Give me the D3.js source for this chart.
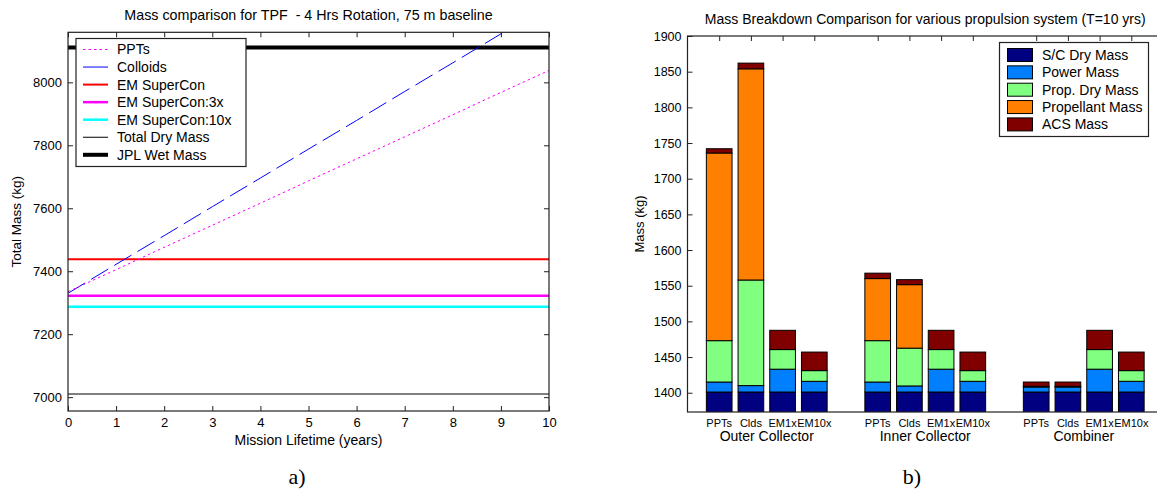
<!DOCTYPE html>
<html>
<head>
<meta charset="utf-8">
<script src="https://cdn.jsdelivr.net/npm/d3@7"></script>
<style>
  html, body { margin: 0; padding: 0; background: #fff; }
  svg { display: block; }
  text { fill: #000; }
</style>
</head>
<body>
<svg id="chart" width="1157" height="489" font-family="'Liberation Sans', Arial, sans-serif"></svg>
<script>
// ---------- Data: left chart (a) ----------
const lifetimeYears = [0, 1, 2, 3, 4, 5, 6, 7, 8, 9, 10];
const pptsMass      = [7335, 7405, 7476, 7546, 7616, 7687, 7757, 7827, 7897, 7968, 8038];
const colloidsMass  = [7330, 7422, 7513, 7605, 7696, 7788, 7879, 7971, 8062, 8154, 8245];
const flatYears     = [0, 10];
const emSuperConMass    = [7438, 7438];
const emSuperCon3xMass  = [7322, 7322];
const emSuperCon10xMass = [7287, 7287];
const totalDryMass      = [7010, 7010];
const jplWetMass        = [8111, 8111];
const leftXTicks = [0, 1, 2, 3, 4, 5, 6, 7, 8, 9, 10];
const leftYTicks = [7000, 7200, 7400, 7600, 7800, 8000];
const leftTitle = "Mass comparison for TPF  - 4 Hrs Rotation, 75 m baseline";
const leftXLabel = "Mission Lifetime (years)";
const leftYLabel = "Total Mass (kg)";

// ---------- Data: right chart (b) ----------
const groupNames = ["Outer Collector", "Inner Collector", "Combiner"];
const barLabels  = ["PPTs", "Clds", "EM1x", "EM10x"];
const componentNames = ["S/C Dry Mass", "Power Mass", "Prop. Dry Mass", "Propellant Mass", "ACS Mass"];
// one value per bar: Outer (PPTs, Clds, EM1x, EM10x), Inner (...), Combiner (...)
const scDryMass      = [1401, 1401, 1401, 1401, 1401, 1401, 1401, 1401, 1401, 1401, 1401, 1401];
const powerMass      = [14, 9, 32, 15, 14, 8.5, 32, 15, 7, 7, 32, 15];
const propDryMass    = [58, 148, 27.5, 15, 58, 53, 27.5, 15, 1, 1, 27.5, 15];
const propellantMass = [263, 296, 0, 0, 87, 89, 0, 0, 0, 0, 0, 0];
const acsMass        = [6, 8, 27, 26, 7.6, 7, 27, 26, 6, 6, 27, 26];
const rightYTicks = [1400, 1450, 1500, 1550, 1600, 1650, 1700, 1750, 1800, 1850, 1900];
const rightTitle = "Mass Breakdown Comparison for various propulsion system (T=10 yrs)";
const rightYLabel = "Mass (kg)";

const svg = d3.select("#chart");
const AX = "#222";
const SERIF = "'Liberation Serif', 'Times New Roman', serif";

// ================= LEFT CHART =================
{
  const L = {x0: 68, x1: 549, y0: 32.3, y1: 411};
  const x = d3.scaleLinear().domain([0, 10]).range([L.x0, L.x1]);
  const y = d3.scaleLinear().domain([6956, 8159]).range([L.y1, L.y0]);
  const g = svg.append("g");

  g.append("clipPath").attr("id", "clipL").append("rect")
    .attr("x", L.x0).attr("y", L.y0).attr("width", L.x1 - L.x0).attr("height", L.y1 - L.y0);

  const series = [
    {name: "PPTs", xs: lifetimeYears, ys: pptsMass, color: "#ff00ff", w: 1, dash: "2.5,3"},
    {name: "Colloids", xs: lifetimeYears, ys: colloidsMass, color: "#0000ff", w: 1, dash: "20,7"},
    {name: "EM SuperCon", xs: flatYears, ys: emSuperConMass, color: "#ff0000", w: 2, dash: null},
    {name: "EM SuperCon:3x", xs: flatYears, ys: emSuperCon3xMass, color: "#ff00ff", w: 2.5, dash: null},
    {name: "EM SuperCon:10x", xs: flatYears, ys: emSuperCon10xMass, color: "#00ffff", w: 2.5, dash: null},
    {name: "Total Dry Mass", xs: flatYears, ys: totalDryMass, color: "#000", w: 1, dash: null},
    {name: "JPL Wet Mass", xs: flatYears, ys: jplWetMass, color: "#000", w: 4, dash: null}
  ];

  const line = d3.line().x(d => x(d[0])).y(d => y(d[1]));
  const lg = g.append("g").attr("clip-path", "url(#clipL)");
  series.slice().reverse().forEach(s => {
    lg.append("path")
      .attr("d", line(s.xs.map((v, i) => [v, s.ys[i]])))
      .attr("fill", "none").attr("stroke", s.color).attr("stroke-width", s.w)
      .attr("stroke-dasharray", s.dash);
  });

  // axes (MATLAB-style inward ticks on all sides)
  const fmt = d3.format("d");
  const bottom = g.append("g").attr("transform", `translate(0,${L.y1})`)
    .call(d3.axisBottom(x).tickValues(leftXTicks).tickSizeInner(-5).tickSizeOuter(0).tickPadding(7).tickFormat(fmt));
  const top = g.append("g").attr("transform", `translate(0,${L.y0})`)
    .call(d3.axisTop(x).tickValues(leftXTicks).tickSizeInner(-5).tickSizeOuter(0).tickFormat(""));
  const left = g.append("g").attr("transform", `translate(${L.x0},0)`)
    .call(d3.axisLeft(y).tickValues(leftYTicks).tickSizeInner(-5).tickSizeOuter(0).tickPadding(6).tickFormat(fmt));
  const right = g.append("g").attr("transform", `translate(${L.x1},0)`)
    .call(d3.axisRight(y).tickValues(leftYTicks).tickSizeInner(-5).tickSizeOuter(0).tickFormat(""));
  [bottom, top, left, right].forEach(a => {
    a.attr("font-family", null).attr("font-size", null);
    a.select(".domain").remove();
    a.selectAll("line").attr("stroke", AX);
    a.selectAll("text").attr("font-size", 13).attr("fill", "#000");
  });
  g.append("rect").attr("x", L.x0).attr("y", L.y0).attr("width", L.x1 - L.x0).attr("height", L.y1 - L.y0)
    .attr("fill", "none").attr("stroke", AX).attr("stroke-width", 1.2);

  // legend
  const leg = g.append("g");
  leg.append("rect").attr("x", 76).attr("y", 38.5).attr("width", 170).attr("height", 128)
    .attr("fill", "#fff").attr("stroke", AX).attr("stroke-width", 1.2);
  series.forEach((s, i) => {
    const cy = 49.5 + i * 17.55;
    leg.append("line").attr("x1", 83).attr("x2", 108).attr("y1", cy).attr("y2", cy)
      .attr("stroke", s.color).attr("stroke-width", s.w)
      .attr("stroke-dasharray", s.name === "PPTs" ? s.dash : null);
    leg.append("text").attr("x", 117).attr("y", cy).attr("dy", "0.35em").attr("font-size", 14).text(s.name);
  });

  g.append("text").attr("x", (L.x0 + L.x1) / 2).attr("y", 20).attr("text-anchor", "middle")
    .style("white-space", "pre").attr("font-size", 14.3).text(leftTitle);
  g.append("text").attr("x", (L.x0 + L.x1) / 2).attr("y", 445).attr("text-anchor", "middle")
    .attr("font-size", 14).text(leftXLabel);
  g.append("text").attr("transform", `translate(21,${(L.y0 + L.y1) / 2}) rotate(-90)`).attr("text-anchor", "middle")
    .attr("font-size", 13.5).text(leftYLabel);
  g.append("text").attr("x", 297).attr("y", 484).attr("text-anchor", "middle")
    .attr("font-family", SERIF).attr("font-size", 22).text("a)");
}

// ================= RIGHT CHART =================
{
  const R = {x0: 687.5, x1: 1163, y0: 36, y1: 412};
  const x = d3.scaleLinear().domain([0, 15]).range([R.x0, R.x1]);
  const y = d3.scaleLinear().domain([1373, 1900]).range([R.y1, R.y0]);
  const g = svg.append("g");
  const colors = ["#000080", "#0080ff", "#80ff80", "#ff7f00", "#800000"];
  const comps = [scDryMass, powerMass, propDryMass, propellantMass, acsMass];

  const bars = [];
  groupNames.forEach((gn, gi) => barLabels.forEach((bl, bi) => {
    const idx = gi * barLabels.length + bi;
    bars.push({pos: gi * 5 + bi + 1, label: bl, group: gi, values: comps.map(c => c[idx])});
  }));
  const positions = bars.map(b => b.pos);
  const step = x(1) - x(0);
  const bw = step * 0.81;

  g.append("clipPath").attr("id", "clipR").append("rect")
    .attr("x", R.x0).attr("y", R.y0).attr("width", R.x1 - R.x0).attr("height", R.y1 - R.y0);

  // axes
  const bottom = g.append("g").attr("transform", `translate(0,${R.y1})`)
    .call(d3.axisBottom(x).tickValues(positions).tickSizeInner(-5).tickSizeOuter(0).tickFormat(""));
  const top = g.append("g").attr("transform", `translate(0,${R.y0})`)
    .call(d3.axisTop(x).tickValues(positions).tickSizeInner(-5).tickSizeOuter(0).tickFormat(""));
  const left = g.append("g").attr("transform", `translate(${R.x0},0)`)
    .call(d3.axisLeft(y).tickValues(rightYTicks).tickSizeInner(-5).tickSizeOuter(0).tickPadding(6).tickFormat(d3.format("d")));
  const right = g.append("g").attr("transform", `translate(${R.x1},0)`)
    .call(d3.axisRight(y).tickValues(rightYTicks).tickSizeInner(-5).tickSizeOuter(0).tickFormat(""));
  [bottom, top, left, right].forEach(a => {
    a.attr("font-family", null).attr("font-size", null);
    a.select(".domain").remove();
    a.selectAll("line").attr("stroke", AX);
    a.selectAll("text").attr("font-size", 12.5).attr("fill", "#000");
  });

  // stacked bars
  const bg = g.append("g").attr("clip-path", "url(#clipR)");
  bars.forEach(b => {
    let base = 0;
    b.values.forEach((v, ci) => {
      const lo = base, hi = base + v;
      base = hi;
      if (v <= 0) return;
      const yLo = y(Math.max(lo, 1373 - 5));
      bg.append("rect").attr("x", x(b.pos) - bw / 2).attr("width", bw)
        .attr("y", y(hi)).attr("height", Math.max(0, yLo - y(hi)))
        .attr("fill", colors[ci]).attr("stroke", "#000").attr("stroke-width", 1);
    });
  });

  g.append("rect").attr("x", R.x0).attr("y", R.y0).attr("width", R.x1 - R.x0).attr("height", R.y1 - R.y0)
    .attr("fill", "none").attr("stroke", AX).attr("stroke-width", 1.2);

  // bar labels & group labels
  bars.forEach(b => {
    g.append("text").attr("x", x(b.pos)).attr("y", 427).attr("text-anchor", "middle")
      .attr("font-size", 11).text(b.label);
  });
  groupNames.forEach((gn, gi) => {
    g.append("text").attr("x", x(gi * 5 + 2.5)).attr("y", 441).attr("text-anchor", "middle")
      .attr("font-size", 14).text(gn);
  });

  // legend
  const leg = g.append("g");
  leg.append("rect").attr("x", 999.5).attr("y", 42.5).attr("width", 149).attr("height", 94)
    .attr("fill", "#fff").attr("stroke", AX).attr("stroke-width", 1.2);
  componentNames.forEach((n, i) => {
    const cy = 55 + i * 17.35;
    leg.append("rect").attr("x", 1007.5).attr("y", cy - 6.5).attr("width", 25).attr("height", 13)
      .attr("fill", colors[i]).attr("stroke", "#000").attr("stroke-width", 1);
    leg.append("text").attr("x", 1042).attr("y", cy).attr("dy", "0.35em").attr("font-size", 14).text(n);
  });

  g.append("text").attr("x", (R.x0 + R.x1) / 2).attr("y", 24).attr("text-anchor", "middle")
    .attr("font-size", 14).text(rightTitle);
  g.append("text").attr("transform", `translate(644,${(R.y0 + R.y1) / 2}) rotate(-90)`).attr("text-anchor", "middle")
    .attr("font-size", 13).text(rightYLabel);
  g.append("text").attr("x", 912).attr("y", 484).attr("text-anchor", "middle")
    .attr("font-family", SERIF).attr("font-size", 22).text("b)");
}
</script>
</body>
</html>
